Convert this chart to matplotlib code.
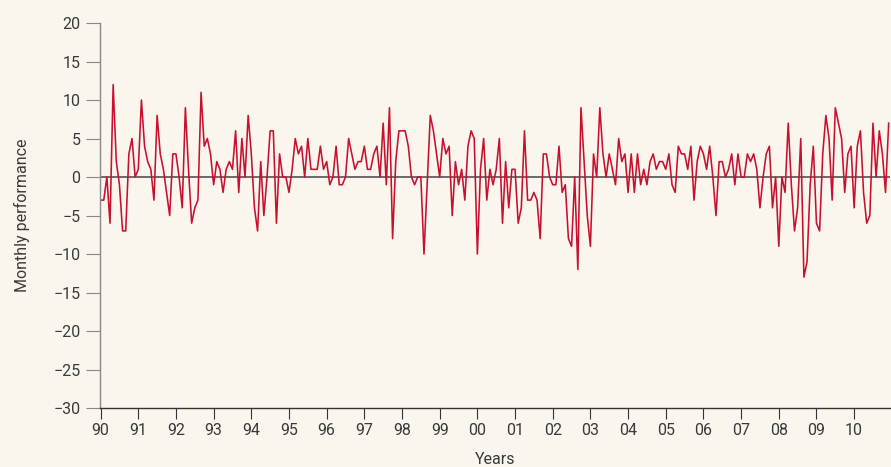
import matplotlib.pyplot as plt
import numpy as np

# monthly performance, one row per year (Jan..Dec)
perf_90s = [
    -3, -3, 0, -6, 12, 2, -1, -7, -7, 3, 5, 0,      # 90
    1, 10, 4, 2, 1, -3, 8, 3, 1, -2, -5, 3,         # 91
    3, 0, -4, 9, 1, -6, -4, -3, 11, 4, 5, 3,        # 92
    -1, 2, 1, -2, 1, 2, 1, 6, -2, 5, 0, 8,          # 93
    3, -4, -7, 2, -5, 0, 6, 6, -6, 3, 0, 0,         # 94
    -2, 1, 5, 3, 4, 0, 5, 1, 1, 1, 4, 1,            # 95
    2, -1, 0, 4, -1, -1, 0, 5, 3, 1, 2, 2,          # 96
    4, 1, 1, 3, 4, 0, 7, -1, 9, -8, 2, 6,           # 97
    6, 6, 4, 0, -1, 0, 0, -10, -1, 8, 6, 3,         # 98
    0, 5, 3, 4, -5, 2, -1, 1, -3, 4, 6, 5,          # 99
]
perf_00s = [
    -10, 1, 5, -3, 1, -1, 1, 5, -6, 2, -4, 1,       # 00
    1, -6, -4, 6, -3, -3, -2, -3, -8, 3, 3, 0,      # 01
    -1, -1, 4, -2, -1, -8, -9, 0, -12, 9, 2, -5,    # 02
    -9, 3, 0, 9, 3, 0, 3, 1, -1, 5, 2, 3,           # 03
    -2, 3, -2, 3, -1, 1, -1, 2, 3, 1, 2, 2,         # 04
    1, 3, -1, -2, 4, 3, 3, 1, 4, -3, 2, 4,          # 05
    3, 1, 4, 0, -5, 2, 2, 0, 1, 3, -1, 3,           # 06
    0, 0, 3, 2, 3, 1, -4, 0, 3, 4, -4, 0,           # 07
    -9, 0, -2, 7, -1, -7, -4, 5, -13, -11, -1, 4,   # 08
    -6, -7, 3, 8, 5, -3, 9, 7, 5, -2, 3, 4,         # 09
    -4, 4, 6, -2, -6, -5, 7, 0, 6, 3, -2, 7,        # 10
]
year_labels = ['90', '91', '92', '93', '94', '95', '96', '97', '98', '99',
               '00', '01', '02', '03', '04', '05', '06', '07', '08', '09', '10']
y_ticks = [-30, -25, -20, -15, -10, -5, 0, 5, 10, 15, 20]

perf = perf_90s + perf_00s
months = np.arange(len(perf))

bg = '#faf5ed'
red = '#c8102e'
txt = '#3a3a3a'

plt.rcParams['font.family'] = ['Roboto', 'DejaVu Sans']

fig = plt.figure(figsize=(8.91, 4.67), dpi=100, facecolor=bg)
ax = fig.add_axes([0.1122, 0.1263, 0.8866, 0.8244])
ax.set_facecolor(bg)

ax.axhline(0, color='#444444', lw=1.1, zorder=1)
ax.plot(months, perf, color=red, lw=1.15, zorder=2)

ax.set_xlim(-0.2, 251.4)
ax.set_ylim(-30, 20)
ax.set_yticks(y_ticks)
ax.set_xticks(np.arange(len(year_labels)) * 12)
ax.set_xticklabels(year_labels)

for s in ['top', 'right']:
    ax.spines[s].set_visible(False)
ax.spines['left'].set_color('#888888')
ax.spines['left'].set_linewidth(1.0)
ax.spines['bottom'].set_color('#333333')
ax.spines['bottom'].set_linewidth(1.0)

ax.tick_params(axis='y', direction='out', length=10, width=0.8, color='#888888',
               labelsize=11.5, labelcolor=txt, pad=4)
ax.tick_params(axis='x', direction='out', length=8, width=0.8, color='#333333',
               labelsize=11.5, labelcolor=txt, pad=3)

ax.set_xlabel('Years', fontsize=11.5, color=txt, labelpad=10)
ax.set_ylabel('Monthly performance', fontsize=11.5, color=txt, labelpad=17)

fig.savefig('out.png', dpi=100, facecolor=bg)
